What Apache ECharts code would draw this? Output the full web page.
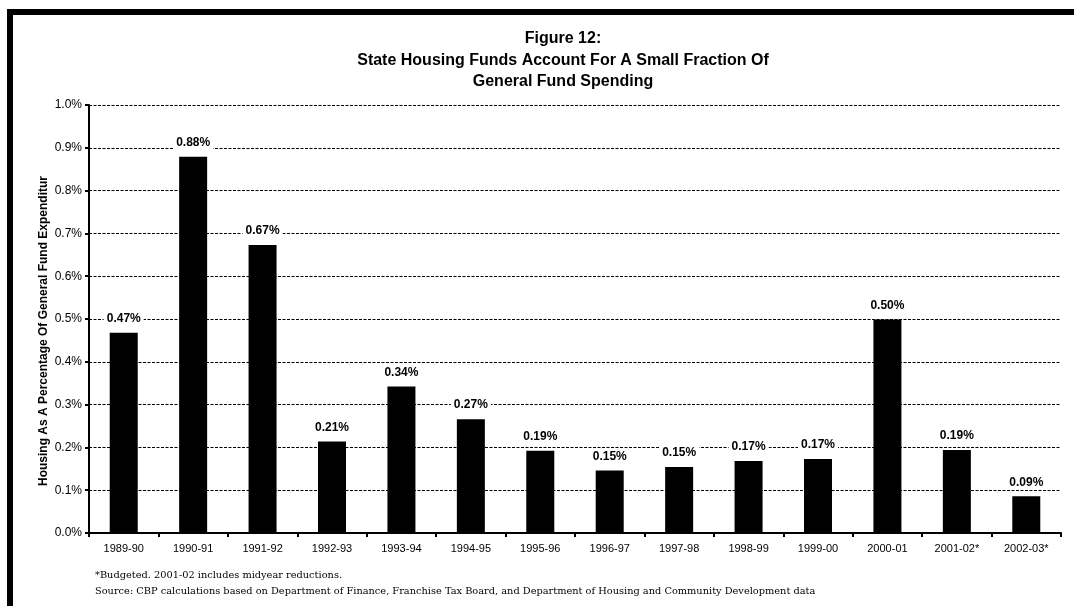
<!DOCTYPE html>
<html>
<head>
<meta charset="utf-8">
<script src="https://cdn.jsdelivr.net/npm/echarts@6/dist/echarts.min.js"></script>
<style>
  html, body { margin: 0; padding: 0; background: #fff; }
  #chart { width: 1074px; height: 606px; }
</style>
</head>
<body>
<div id="chart"></div>
<script>
// Fiscal years shown on the category axis
const years = ['1989-90', '1990-91', '1991-92', '1992-93', '1993-94', '1994-95', '1995-96',
  '1996-97', '1997-98', '1998-99', '1999-00', '2000-01', '2001-02*', '2002-03*'];

// Housing spending as a percentage of General Fund expenditures
const housingShare = [0.468, 0.879, 0.673, 0.214, 0.342, 0.266, 0.192,
  0.146, 0.154, 0.168, 0.173, 0.499, 0.194, 0.086];

// Value axis ticks (percent)
const yTicks = [0.0, 0.1, 0.2, 0.3, 0.4, 0.5, 0.6, 0.7, 0.8, 0.9, 1.0];

const titleLines = ['Figure 12:', 'State Housing Funds Account For A Small Fraction Of', 'General Fund Spending'];
const yAxisTitle = 'Housing As A Percentage Of General Fund Expenditur';
const notes = ['*Budgeted. 2001-02 includes midyear reductions.',
  'Source: CBP calculations based on Department of Finance, Franchise Tax Board, and Department of Housing and Community Development data'];

const chart = echarts.init(document.getElementById('chart'), null, { renderer: 'canvas' });

chart.setOption({
  animation: false,
  backgroundColor: '#fff',
  title: {
    text: titleLines.join('\n'),
    left: 558,
    top: 23,
    textAlign: 'center',
    textStyle: {
      fontFamily: 'Liberation Sans, Arial, sans-serif',
      fontSize: 16,
      fontWeight: 'bold',
      color: '#000',
      lineHeight: 21.5
    }
  },
  grid: { left: 89, right: 13, top: 105, bottom: 73, containLabel: false },
  xAxis: {
    type: 'category',
    data: years,
    boundaryGap: true,
    axisLine: { show: true, lineStyle: { color: '#000', width: 2 } },
    axisTick: { show: true, alignWithLabel: false, length: 4, lineStyle: { color: '#000', width: 2 } },
    axisLabel: {
      color: '#000',
      fontFamily: 'Liberation Sans, Arial, sans-serif',
      fontSize: 11,
      margin: 10,
      interval: 0
    },
    splitLine: { show: false }
  },
  yAxis: {
    type: 'value',
    min: yTicks[0],
    max: yTicks[yTicks.length - 1],
    interval: 0.1,
    axisLine: { show: true, lineStyle: { color: '#000', width: 2 } },
    axisTick: { show: true, length: 4, lineStyle: { color: '#000', width: 2 } },
    axisLabel: {
      color: '#000',
      fontFamily: 'Liberation Sans, Arial, sans-serif',
      fontSize: 12,
      margin: 7,
      formatter: v => v.toFixed(1) + '%'
    },
    splitLine: { show: true, lineStyle: { color: '#000', width: 1, type: [3, 1.5] } }
  },
  series: [{
    type: 'bar',
    data: housingShare,
    barWidth: 28,
    itemStyle: { color: '#000' },
    label: {
      show: true,
      position: 'top',
      distance: 7,
      color: '#000',
      fontFamily: 'Liberation Sans, Arial, sans-serif',
      fontSize: 12,
      fontWeight: 'bold',
      backgroundColor: '#fff',
      padding: [1, 3],
      formatter: p => p.value.toFixed(2) + '%'
    }
  }],
  graphic: [
    // page frame (top and left rules)
    { type: 'rect', shape: { x: 7, y: 9, width: 1067, height: 6 }, style: { fill: '#000' }, silent: true },
    { type: 'rect', shape: { x: 7, y: 9, width: 6, height: 597 }, style: { fill: '#000' }, silent: true },
    {
      type: 'text',
      x: 44, y: 331,
      rotation: Math.PI / 2,
      style: {
        text: yAxisTitle,
        fill: '#000',
        font: 'bold 12px "Liberation Sans", Arial, sans-serif',
        textAlign: 'center',
        textVerticalAlign: 'middle'
      }
    },
    {
      type: 'text',
      x: 95, y: 575,
      style: {
        text: notes[0],
        fill: '#000',
        font: '9.8px "DejaVu Serif", serif',
        textAlign: 'left',
        textVerticalAlign: 'middle'
      }
    },
    {
      type: 'text',
      x: 95, y: 591,
      style: {
        text: notes[1],
        fill: '#000',
        font: '9.8px "DejaVu Serif", serif',
        textAlign: 'left',
        textVerticalAlign: 'middle'
      }
    }
  ]
});
</script>
</body>
</html>
